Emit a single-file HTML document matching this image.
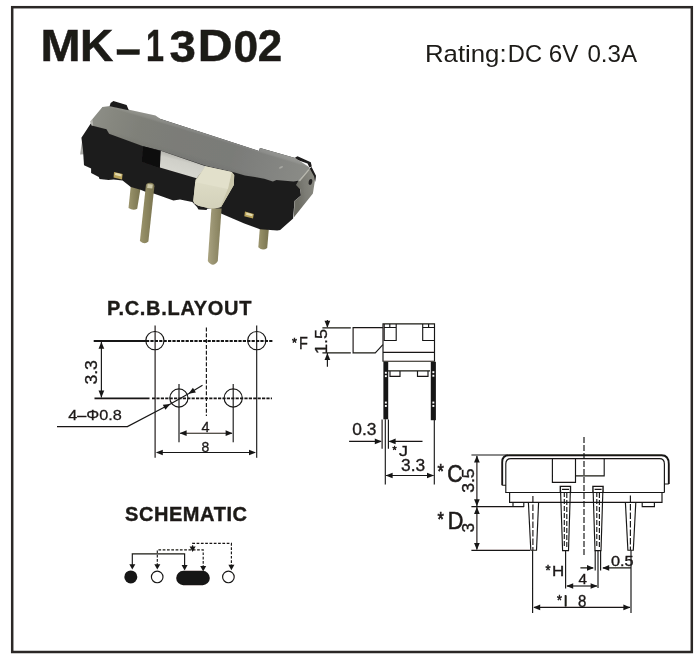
<!DOCTYPE html>
<html>
<head>
<meta charset="utf-8">
<title>MK-13D02</title>
<style>
html,body{margin:0;padding:0;background:#fff;}
body{width:700px;height:660px;overflow:hidden;font-family:"Liberation Sans",sans-serif;}
svg{display:block;}
text{font-family:"Liberation Sans",sans-serif;fill:#1c1a19;}
.b{font-weight:bold;}
.l{stroke:#181716;stroke-width:1.15;fill:none;}
.t{stroke:#181716;stroke-width:1.85;fill:none;}
.k{fill:#181716;stroke:none;}
</style>
</head>
<body>
<svg width="700" height="660" viewBox="0 0 700 660">
<defs>
  <filter id="blur" x="-5%" y="-5%" width="110%" height="110%"><feGaussianBlur stdDeviation="0.7"/></filter>
  <filter id="soft" x="-5%" y="-5%" width="110%" height="110%"><feGaussianBlur stdDeviation="0.3"/></filter>
  <filter id="pblur" x="-5%" y="-5%" width="110%" height="110%"><feGaussianBlur stdDeviation="0.55"/></filter>
  <linearGradient id="gcov" gradientUnits="userSpaceOnUse" x1="92" y1="112" x2="308" y2="176.8">
    <stop offset="0" stop-color="#8e8f88"/><stop offset="0.1" stop-color="#86877f"/><stop offset="0.22" stop-color="#7f8079"/>
    <stop offset="0.4" stop-color="#7b7c78"/><stop offset="0.65" stop-color="#7a7b78"/><stop offset="0.82" stop-color="#828380"/><stop offset="1" stop-color="#8b8c87"/>
  </linearGradient>
  <linearGradient id="gcovl" gradientUnits="userSpaceOnUse" x1="160.6" y1="119" x2="151.6" y2="149">
    <stop offset="0" stop-color="#fff" stop-opacity="0.13"/><stop offset="0.07" stop-color="#fff" stop-opacity="0.09"/><stop offset="0.13" stop-color="#fff" stop-opacity="0"/>
    <stop offset="0.8" stop-color="#000" stop-opacity="0.0"/><stop offset="1" stop-color="#000" stop-opacity="0.04"/>
  </linearGradient>
  <linearGradient id="gend" gradientUnits="userSpaceOnUse" x1="297" y1="192" x2="314" y2="190">
    <stop offset="0" stop-color="#6c6c64"/><stop offset="0.5" stop-color="#7d7d76"/><stop offset="1" stop-color="#87877f"/>
  </linearGradient>
  <linearGradient id="gpin" x1="0" y1="0" x2="1" y2="0">
    <stop offset="0" stop-color="#9c956e"/><stop offset="0.35" stop-color="#8f8962"/><stop offset="1" stop-color="#79734f"/>
  </linearGradient>
  <linearGradient id="gpin3" x1="0" y1="0" x2="1" y2="0">
    <stop offset="0" stop-color="#aaa380"/><stop offset="0.35" stop-color="#9b9573"/><stop offset="1" stop-color="#847e5b"/>
  </linearGradient>
  <linearGradient id="gknf" x1="0" y1="0" x2="0" y2="1">
    <stop offset="0" stop-color="#dddbc5"/><stop offset="1" stop-color="#d3d1ba"/>
  </linearGradient>
  <linearGradient id="gstrip" gradientUnits="userSpaceOnUse" x1="180" y1="156" x2="176" y2="172">
    <stop offset="0" stop-color="#b4b4ae"/><stop offset="0.3" stop-color="#cfcfc8"/><stop offset="1" stop-color="#d6d6cf"/>
  </linearGradient>
  <!-- arrowhead pointing to +x, tip at origin -->
  <path id="ah" d="M0,0 L-7,-2.85 L-7,2.85 Z"/>
  <path id="ahs" d="M0,0 L-5,-2.4 L-5,2.4 Z"/>
  <path id="ahm" d="M0,0 L-5.4,-3 L-5.4,3 Z"/>
</defs>
<rect x="0" y="0" width="700" height="660" fill="#fff"/>

<!-- FRAME -->
<rect x="12.2" y="7.2" width="679.6" height="644.8" fill="none" stroke="#2b2826" stroke-width="2.5"/>

<!-- TITLE -->
<g filter="url(#soft)">
<g id="titleg" stroke="#1c1a19" stroke-width="0.5">
<text class="b" font-size="43.5" transform="translate(40.39,61.30) scale(1.106,1.000)">M</text>
<text class="b" font-size="43.5" transform="translate(79.88,61.30) scale(1.060,1.000)">K</text>
<rect x="117" y="49.7" width="22.4" height="4.8" fill="#1c1a19"/>
<text class="b" font-size="43.5" transform="translate(145.91,61.30) scale(0.743,1.000)">1</text>
<text class="b" font-size="43.5" transform="translate(169.51,61.80) scale(1.091,1.029)">3</text>
<text class="b" font-size="43.5" transform="translate(197.79,61.30) scale(1.107,1.000)">D</text>
<text class="b" font-size="43.5" transform="translate(233.58,61.80) scale(1.018,1.029)">0</text>
<text class="b" font-size="43.5" transform="translate(257.79,61.30) scale(1.009,1.013)">2</text>
</g>
<text font-size="24" transform="translate(424.92,61.76) scale(1.075,0.968)">Rating:</text>
<text font-size="24" transform="translate(507.81,61.90) scale(0.987,0.994)">DC</text>
<text font-size="24" transform="translate(548.69,61.80) scale(1.009,0.976)">6V</text>
<text font-size="24" transform="translate(587.40,61.80) scale(1.007,0.982)">0.3A</text>
<text id="pcb" class="b" stroke="#1c1a19" stroke-width="0.35" x="107" y="315.3" font-size="20" textLength="144.4" lengthAdjust="spacing">P.C.B.LAYOUT</text>
<text id="sch" class="b" stroke="#1c1a19" stroke-width="0.4" x="125" y="520.7" font-size="20" textLength="122" lengthAdjust="spacing">SCHEMATIC</text>
</g>

<!--PHOTO-->
<g id="photo" filter="url(#pblur)">
  <!-- pins behind -->
  <path fill="url(#gpin)" d="M130.8,186 L140.5,188.5 L137.2,208.8 Q133,211 128.5,208 Z"/>
  <path fill="url(#gpin)" d="M260,226 L268.8,229.5 L267.2,248 Q262.5,251.5 258.3,247.2 Z"/>
  <!-- left silver tab -->
  <path fill="#a8a8a4" d="M80.1,154.6 L82.1,140.5 L85.5,146 L85,154.2 Z"/>
  <!-- body silhouette -->
  <path fill="#1f1e1e" d="M90.4,124 L81.4,137.7 L83,150 L84,165.3 L91.1,168.6 L91.1,173 L98.8,176.9 L99.5,178.9 L108.5,180.1 L113.6,179.4 L122.6,180.6 L130.8,187 L140.5,189.8 L146,192 L154.4,193.8 L164.3,197.2 L173.4,200.6 L180,199.6 L192.3,202 L197,207 L198.5,209.6 L206.5,210 L207.5,208.5 L220.7,209 L221,213.6 L244.3,223.6 L260,229.3 L277.3,230.6 L280.2,229.9 L293.1,218.4 L294.5,201.1 L301,195.4 L300.3,189.6 L298.6,181.2 L295,158 L260,148 L259,151 L160.6,119 L103,107 Z"/>
  <!-- black tabs on top -->
  
  <path fill="#1c1a1a" d="M294.5,158 L297.5,156.3 L310.8,162.2 L311.8,166.6 L309.5,167.6 L307.5,163.6 L296,159.6 Z"/>
  <!-- end face -->
  <path fill="url(#gend)" d="M298.1,181.2 L309.7,168.6 L315.4,176 L314.7,182 L312.9,193.6 L293.8,217.4 L294.5,201.1 L301,195.4 L300.3,189.6 L296,185 Z"/>
  <ellipse cx="310.4" cy="182" rx="1.8" ry="3" fill="#242222" transform="rotate(12 310.4 182)"/>
  <path fill="#1c1a1a" d="M309.7,168.6 L311.6,167 L316,175.8 L315.2,182 L314.2,176.4 Z"/>
  <!-- cover -->
  <path id="cov" fill="url(#gcov)" d="M90.4,121.6 L99.5,110.6 L102.5,107 L110,106 L128,109.6 L155.4,115.6 L160.6,119 L200,131.8 L259,151 L260,148 L295.3,158 L309,167 L309.7,168.8 L298.1,181.4 L297.9,180.7 L293.6,181.4 L276.4,180 L272.9,181.6 L264.3,178.8 L255,177.1 L245,175.6 L232,171.8 L206.4,166 L160.6,150.6 L143.2,146.3 L109.1,133.8 L106.5,129.3 L91.7,125.4 Z"/>
  <path fill="url(#gcovl)" d="M90.4,121.6 L99.5,110.6 L102.5,107 L110,106 L128,109.6 L155.4,115.6 L160.6,119 L200,131.8 L259,151 L260,148 L295.3,158 L309,167 L309.7,168.8 L298.1,181.4 L297.9,180.7 L293.6,181.4 L276.4,180 L272.9,181.6 L264.3,178.8 L255,177.1 L245,175.6 L232,171.8 L206.4,166 L160.6,150.6 L143.2,146.3 L109.1,133.8 L106.5,129.3 L91.7,125.4 Z"/>
  <path fill="#c2c2bd" opacity="0.8" d="M90.2,121.4 L92.4,119 L93.2,125.6 L91.6,125.4 Z"/>
  <ellipse cx="281" cy="167.4" rx="2.2" ry="0.9" fill="#c4c4be" opacity="0.55" transform="rotate(-25 281 167.4)"/>
  <path d="M299.4,181 L308.9,169.6" stroke="#bdbdb3" stroke-width="1.3" fill="none" opacity="0.9"/>
  <path fill="#1c1a1a" d="M109.6,106.2 L110.6,103 L113.4,101 L126.6,105 L128.8,110.2 Z"/>
  <!-- slot -->
  <path fill="#0e0c0d" d="M143.2,146.3 L160.8,151 L160.1,167.9 L141.9,161.7 Z"/>
  <!-- white strip -->
  <path fill="url(#gstrip)" d="M160.8,150.8 L206.4,166.4 L196.6,178.2 L159.9,167.6 Z"/>
  <!-- knob -->
  <path fill="#d9d7c1" d="M205.4,166.3 L231.7,172.1 L234.2,175 L233.8,185 L221,207 L212.5,209 L198.3,205.8 L194.2,203.3 L193.3,200.8 L195.4,180 Z"/>
  <path fill="url(#gknf)" d="M195.4,182 L227.9,188.7 L220.6,207 L212.5,209 L198.3,205.8 L194.2,203.3 L193.3,200.8 Z"/>
  <path fill="#c9c6aa" d="M231.7,172.1 L234.2,175 L233.8,185 L221,207.2 L220.4,206.7 L227.9,188.7 Z"/>
  <path fill="#e2e0cb" d="M205.4,166.3 L231.7,172.1 L227.9,188.9 L195.4,182.2 Z"/>
  <!-- gold contacts -->
  <path fill="#b9a35a" d="M114,172 L122.6,174 L122,179.4 L113.6,177.6 Z"/>
  <path fill="#e3daae" d="M115.4,172.8 L121.6,174.3 L121.3,176.4 L115,175 Z"/>
  <path fill="#b9a35a" d="M245,211.6 L253.8,214 L253,218.4 L244.3,216.2 Z"/>
  <path fill="#e3daae" d="M246.5,212.6 L252.6,214.2 L252.2,216.2 L246,214.8 Z"/>
  <!-- front pins -->
  <path fill="url(#gpin)" d="M145.9,185.5 Q146.3,182.8 150.2,182.8 Q154.4,183 154.4,186.2 L148.4,241.6 Q144.5,245 139.9,240.9 Z"/>
  <path fill="url(#gpin3)" d="M211.4,208.6 L221.6,208.6 L217.8,261 Q213,268.5 207.8,261 Z"/>
  <path fill="#d8d3b4" opacity="0.85" d="M147.6,184 L152.8,184.4 L152.3,188.6 L147.1,188 Z"/>
</g>

<!--PCB-->
<g id="pcbg" filter="url(#soft)">
  <!-- thick horizontal refs -->
  <path class="t" d="M93.7,341 H146 M94.5,398.4 H149.5"/>
  <path class="t" stroke-dasharray="3.2,1.2" d="M146,341 H273 M152,398.4 H272"/>
  <!-- circles -->
  <circle class="l" stroke-width="1.4" cx="154.9" cy="340.6" r="9.1"/>
  <circle class="l" stroke-width="1.4" cx="256.8" cy="340.6" r="9.1"/>
  <circle class="l" stroke-width="1.4" cx="178.9" cy="398" r="9.1"/>
  <circle class="l" stroke-width="1.4" cx="233.2" cy="398" r="9.1"/>
  <!-- verticals -->
  <path class="l" d="M155.1,325.4 V457.7 M256.7,325.4 V457.7 M179,384 V442.3 M233.2,384 V442.3"/>
  <path class="l" stroke-width="0.95" stroke-dasharray="4,1.8" d="M206.4,327.5 V416"/>
  <!-- 3.3 dim -->
  <path class="l" d="M101.4,342 V397.5"/>
  <use href="#ah" class="k" transform="translate(101.4,341.8) rotate(-90)"/>
  <use href="#ah" class="k" transform="translate(101.4,397.6) rotate(90)"/>
  <!-- 4 dim -->
  <path class="l" d="M180,433.2 H232"/>
  <use href="#ah" class="k" transform="translate(179.6,433.2) rotate(180)"/>
  <use href="#ah" class="k" transform="translate(232.6,433.2)"/>
  <!-- 8 dim -->
  <path class="l" d="M157,452.5 H255"/>
  <use href="#ah" class="k" transform="translate(155.8,452.5) rotate(180)"/>
  <use href="#ah" class="k" transform="translate(256,452.5)"/>
  <!-- leader -->
  <path class="l" d="M57,426.6 H127.4 L169.5,404.4 L188.9,393.4 L202.5,385.2"/>
  <use href="#ah" class="k" transform="translate(170.3,404) rotate(-28)"/>
  <use href="#ah" class="k" transform="translate(188.4,393.7) rotate(149)"/>
<text stroke="#1c1a19" stroke-width="0.3" font-size="16.5" transform="translate(96.90,384.50) rotate(-90) scale(1.063,1.000)">3.3</text>
<text stroke="#1c1a19" stroke-width="0.3" font-size="15.6" transform="translate(68.20,420.10) scale(1.043,0.925)">4–Φ0.8</text>
<text stroke="#1c1a19" stroke-width="0.3" font-size="14.5" transform="translate(201.40,431.70) scale(1.000,1.030)">4</text>
<text stroke="#1c1a19" stroke-width="0.3" font-size="14.5" transform="translate(201.60,451.50) scale(0.963,1.040)">8</text>
</g>

<!--SCHEMATIC-->
<g id="schg" filter="url(#soft)">
  <circle class="k" cx="130.8" cy="576.9" r="6.5"/>
  <circle class="l" stroke-width="1.5" cx="157.2" cy="576.9" r="5.8"/>
  <rect class="k" x="176.2" y="570.8" width="33.6" height="14.4" rx="7.2"/>
  <circle class="l" stroke-width="1.5" cx="228.4" cy="576.9" r="5.8"/>
  <!-- solid path -->
  <path class="l" stroke-width="1.3" d="M132.3,566 V553.9 H184.6 V566"/>
  <use href="#ahm" class="k" transform="translate(132.3,569.6) rotate(90)"/>
  <use href="#ahm" class="k" transform="translate(184.6,570.4) rotate(90)"/>
  <!-- dashed path 1 -->
  <path class="l" stroke-width="1.2" stroke-dasharray="2.7,1.6" d="M157.3,566 V549.9 H203.2 V567"/>
  <use href="#ahm" class="k" transform="translate(157.3,569.6) rotate(90)"/>
  <use href="#ahm" class="k" transform="translate(203.2,571.4) rotate(90)"/>
  <!-- dashed path 2 -->
  <path class="l" stroke-width="1.2" stroke-dasharray="2.7,1.6" d="M192.6,548 V543.4 H231.4 V566"/>
  <use href="#ahm" class="k" transform="translate(192.6,552) rotate(90)"/>
  <use href="#ahm" class="k" transform="translate(231.4,570.2) rotate(90)"/>
</g>

<!--SIDE-->
<g id="sideg" filter="url(#soft)">
  <!-- body -->
  <path class="l" stroke-width="1.4" d="M383,323.9 H434.5 V361.2 H383 Z"/>
  <path class="l" d="M383,352.3 H434.5"/>
  <!-- knob -->
  <path class="l" d="M382.9,327.6 H353.1 V352.8 H375.3 L382.9,344.7"/>
  <!-- top notches -->
  <path class="l" stroke-width="1.05" d="M384.2,324 V340.5 H396.2 V324 M384.2,327.5 H396.2 M389.8,324 V327.5"/>
  <path class="l" stroke-width="1.05" d="M422.7,324 V340.5 H434.4 M422.7,327.5 H434.4 M428.6,324 V327.5"/>
  <!-- pins thick -->
  <rect class="k" x="383.4" y="361.8" width="4.8" height="57.5"/>
  <rect class="k" x="430.8" y="361.8" width="5.1" height="58.4"/>
  <g fill="#fff">
    <rect x="384.9" y="371.8" width="1.9" height="1.9"/><rect x="384.9" y="375.2" width="1.9" height="1.9"/>
    <rect x="384.9" y="401.6" width="1.9" height="1.9"/><rect x="384.9" y="405" width="1.9" height="1.9"/>
    <rect x="432.4" y="371.2" width="1.9" height="1.9"/><rect x="432.4" y="374.8" width="1.9" height="1.9"/>
    <rect x="432.4" y="401.6" width="1.9" height="1.9"/><rect x="432.4" y="405" width="1.9" height="1.9"/>
  </g>
  <!-- inner lower -->
  <path class="l" stroke-width="1" d="M388,370.8 H430 M390,370.8 V376.3 H400 V370.8 M417.5,370.8 V376.3 H428 V370.8"/>
  <!-- thin pin lines -->
  <path class="l" stroke-width="0.75" d="M382.1,419.5 V448.8 M388.4,419.5 V448.8"/>
  <path class="l" stroke-width="1.05" d="M385.3,419.2 V484.5 M434.3,420 V484.5"/>
  <!-- F dim -->
  <path class="l" stroke-width="1" d="M322.4,327.8 H350.8 M322.4,352.9 H350.8 M327.4,320 V327 M327.4,353.4 V366.7"/>
  <use href="#ah" class="k" transform="translate(327.4,327.7) rotate(90)"/>
  <use href="#ah" class="k" transform="translate(327.4,353.1) rotate(-90)"/>
  <!-- 0.3 dim -->
  <path class="l" stroke-width="1" d="M349.1,441.4 H381 M389.5,441.4 H422.5"/>
  <use href="#ah" class="k" transform="translate(381.8,441.4)"/>
  <use href="#ah" class="k" transform="translate(388.6,441.4) rotate(180)"/>
  <!-- 3.3 dim -->
  <path class="l" stroke-width="1" d="M386,475.5 H433.6"/>
  <use href="#ah" class="k" transform="translate(385.6,475.5) rotate(180)"/>
  <use href="#ah" class="k" transform="translate(434,475.5)"/>
<text stroke="#1c1a19" stroke-width="0.6" font-size="14" transform="translate(291.90,347.30) scale(0.900,0.900)">*</text>
<text stroke="#1c1a19" stroke-width="0.3" font-size="16.5" transform="translate(299.12,349.30) scale(0.878,0.950)">F</text>
<text stroke="#1c1a19" stroke-width="0.3" font-size="17" transform="translate(327.00,353.96) rotate(-90) scale(1.064,1.017)">1.5</text>
<text stroke="#1c1a19" stroke-width="0.3" font-size="15.5" transform="translate(352.30,435.30) scale(1.123,1.060)">0.3</text>
<text stroke="#1c1a19" stroke-width="0.6" font-size="12" transform="translate(392.40,453.60) scale(0.880,0.920)">*</text>
<text stroke="#1c1a19" stroke-width="0.3" font-size="16" transform="translate(398.90,456.40) scale(1.129,0.933)">J</text>
<text stroke="#1c1a19" stroke-width="0.3" font-size="15.5" transform="translate(401.00,470.50) scale(1.123,1.070)">3.3</text>
</g>

<!--FRONT-->
<g id="frontg" filter="url(#soft)">
  <!-- cover outer -->
  <path class="t" stroke-width="1.6" d="M502.2,485.2 V462 Q502.2,455.2 509,455.2 H661.5 Q668.8,455.2 668.8,464 V484"/>
  <!-- cover inner -->
  <path class="l" d="M502.2,485.2 H505.8 M505.8,493 V464 Q505.8,458.6 511,458.6 H659.5 Q664.4,458.6 664.4,464 V492.4 M664.4,484 H668.8"/>
  <!-- body -->
  <path class="l" d="M505.8,492.5 H664.4 M509.6,492.5 V502.4 H662 V492.5"/>
  <!-- feet -->
  <path class="l" stroke-width="1" d="M513,502.4 V506.5 H523.8 V502.4 M642.2,502.4 V506.6 H654.4 V502.4"/>
  <!-- knob rects -->
  <path class="l" d="M552.4,458.6 V482.4 H575.5 V458.6 M575.5,475.9 H604.2 V458.6"/>
  <!-- centre dashed -->
  <path class="l" stroke-width="0.95" stroke-dasharray="6,2" d="M584,437 V556"/>
  <!-- pins -->
  <path class="l" d="M528.4,502.4 L530.8,550.2 H536.5 L538.6,502.4"/>
  <path class="l" d="M560.2,492.5 V486.4 H570.6 V492.5 M560.4,486.4 L562.6,550.6 H568.5 L570.5,486.4 M562,489.3 H569"/>
  <path class="l" d="M592.8,492.5 V486.4 H603.2 V492.5 M593,486.4 L595,550.6 H601 L603,486.4 M594.6,489.3 H601.6"/>
  <path class="l" d="M625.4,502.4 L627.9,550.2 H633.3 L635.8,502.4"/>
  <!-- pin dashed centre lines -->
  <path class="l" stroke-width="0.95" stroke-dasharray="6.5,2" d="M532.9,496 V550 M630.4,495.5 V550"/>
  <path class="l" stroke-width="0.8" stroke-dasharray="5,2" d="M564.3,492 V548 M566.8,493 V548 M596.8,492 V548 M599.4,493 V548"/>
  <!-- pin3 tip thick -->
  <path class="l" stroke-width="1.5" d="M595.2,550.6 V570.4 M600.6,550.6 V570.4"/>
  <path class="l" stroke-width="1" d="M598,551 V588"/>
  <!-- left ext lines -->
  <path class="l" stroke-width="1" d="M471.4,455 H508 M471.4,506.6 H524 M471.4,550.3 H530"/>
  <path class="l" stroke-width="1" d="M476.9,456 V549.6"/>
  <use href="#ah" class="k" transform="translate(476.9,455.4) rotate(-90)"/>
  <use href="#ah" class="k" transform="translate(476.9,506.2) rotate(90)"/>
  <use href="#ah" class="k" transform="translate(476.9,507) rotate(-90)"/>
  <use href="#ah" class="k" transform="translate(476.9,549.9) rotate(90)"/>
  <!-- bottom ext lines -->
  <path class="l" stroke-width="1" d="M532.6,550.3 V613 M565.6,550.6 V588.4 M631,550.3 V613"/>
  <!-- 0.5 dim -->
  <path class="l" stroke-width="1" d="M580.4,567.9 H593 M603,567.9 H631"/>
  <use href="#ah" class="k" transform="translate(594,567.9)"/>
  <use href="#ah" class="k" transform="translate(602.2,567.9) rotate(180)"/>
  <!-- 4 dim -->
  <path class="l" stroke-width="1" d="M567,586 H597"/>
  <use href="#ah" class="k" transform="translate(566.2,586) rotate(180)"/>
  <use href="#ah" class="k" transform="translate(597.6,586)"/>
  <!-- 8 dim -->
  <path class="l" stroke-width="1" d="M534,607.4 H630"/>
  <use href="#ah" class="k" transform="translate(533.2,607.4) rotate(180)"/>
  <use href="#ah" class="k" transform="translate(630.4,607.4)"/>
</g>
<g id="frontt" filter="url(#soft)" stroke="#1c1a19" stroke-width="0.35">
<text font-size="17" stroke-width="0.6" transform="translate(437.50,478.40) scale(0.957,1.150)">*</text>
<text font-size="23.5" stroke-width="0.6" transform="translate(447.20,481.60) scale(0.900,1.012)">C</text>
<text font-size="17" stroke-width="0.6" transform="translate(437.50,525.70) scale(0.957,1.150)">*</text>
<text font-size="23.5" stroke-width="0.6" transform="translate(447.78,528.60) scale(0.920,0.982)">D</text>
<text font-size="15.5" transform="translate(473.70,492.80) rotate(-90) scale(1.133,1.100)">3.5</text>
<text font-size="15.5" transform="translate(473.90,532.60) rotate(-90) scale(1.112,1.040)">3</text>
<text font-size="13" stroke-width="0.5" transform="translate(545.60,575.08) scale(1.000,1.120)">*</text>
<text font-size="16" transform="translate(551.94,576.20) scale(1.060,0.933)">H</text>
<text font-size="14.5" transform="translate(611.00,566.00) scale(1.125,1.040)">0.5</text>
<text font-size="14.5" transform="translate(578.50,583.60) scale(1.050,1.060)">4</text>
<text font-size="13" stroke-width="0.5" transform="translate(557.00,604.70) scale(0.960,1.100)">*</text>
<rect x="564.9" y="595.7" width="1.6" height="10.8" fill="#1c1a19"/>
<text font-size="15" transform="translate(578.00,606.60) scale(1.000,1.100)">8</text>
</g>

</svg>
</body>
</html>
